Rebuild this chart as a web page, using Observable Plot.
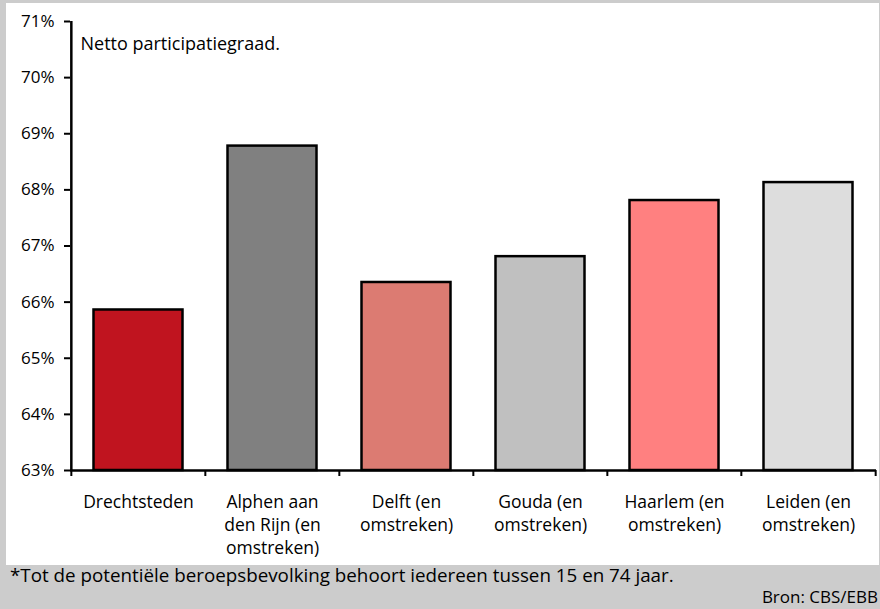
<!DOCTYPE html>
<html>
<head>
<meta charset="utf-8">
<script src="https://cdn.jsdelivr.net/npm/d3@7"></script>
<script src="https://cdn.jsdelivr.net/npm/@observablehq/plot@0.6"></script>
<style>
  body { margin: 0; }
  #wrap { position: relative; width: 880px; height: 609px; background: #cccccc; overflow: hidden; font-family: "Open Sans", sans-serif; color: #000; }
  #panel { position: absolute; left: 6px; top: 3px; width: 873px; height: 562px; background: #fff; }
  #chart { position: absolute; left: 0; top: 0; }
  #note { position: absolute; left: 10px; top: 562px; font-size: 18.8px; white-space: nowrap; }
  #src { position: absolute; right: 2px; top: 585px; font-size: 17px; white-space: nowrap; }
</style>
</head>
<body>
<div id="wrap">
  <div id="panel"></div>
  <div id="chart"></div>
  <div id="note"></div>
  <div id="src"></div>
</div>
<script>
const categories = ["Drechtsteden", "Alphen aan den Rijn (en omstreken)", "Delft (en omstreken)", "Gouda (en omstreken)", "Haarlem (en omstreken)", "Leiden (en omstreken)"];
const tickLabels = ["Drechtsteden", "Alphen aan\nden Rijn (en\nomstreken)", "Delft (en\nomstreken)", "Gouda (en\nomstreken)", "Haarlem (en\nomstreken)", "Leiden (en\nomstreken)"];
const values = [65.86, 68.78, 66.35, 66.81, 67.81, 68.13];
const colors = ["#c0141f", "#808080", "#dc7b72", "#c0c0c0", "#ff8080", "#dddddd"];
const yTicks = [63, 64, 65, 66, 67, 68, 69, 70, 71];
const annotation = "Netto participatiegraad.";
const footnote = "*Tot de potentiële beroepsbevolking behoort iedereen tussen 15 en 74 jaar.";
const source = "Bron: CBS/EBB";

const data = categories.map((c, i) => ({cat: c, value: values[i]}));

const W = 880, H = 565, mL = 70, mR = 4, mT = 21, mB = 95;
const bw = (W - mL - mR) / categories.length;

const chart = Plot.plot({
  width: W,
  height: H,
  marginLeft: mL,
  marginRight: mR,
  marginTop: mT,
  marginBottom: mB,
  style: {background: "transparent", fontFamily: "'Open Sans', sans-serif", fontSize: "17px", color: "#000", overflow: "visible"},
  x: {domain: categories, padding: 0, axis: null, label: null},
  y: {domain: [63, 71], axis: null, label: null},
  color: {domain: categories, range: colors},
  marks: [
    Plot.barY(data, {x: "cat", y1: 63, y2: "value", fill: "cat", stroke: "#000", strokeWidth: 2.5, insetLeft: 22.5, insetRight: 22.5}),
    Plot.axisY({ticks: yTicks, tickFormat: d => d + "%", tickSize: 6, tickPadding: 10, strokeWidth: 2, fontSize: 17, fill: "#000", label: null}),
    Plot.axisX({tickSize: 0, tickPadding: 21.5, tickFormat: d => tickLabels[categories.indexOf(d)], lineHeight: 1.3, fontSize: 17.5, fill: "#000", label: null}),
    Plot.ruleX([categories[0]], {x: d => d, dx: -bw / 2, y1: 63, y2: 71, strokeWidth: 2.5, stroke: "#000"}),
    Plot.ruleY([63], {strokeWidth: 2.5, stroke: "#000"}),
    Plot.ruleX(categories, {x: d => d, dx: -bw / 2, y1: 63, y2: 63, insetBottom: -6, strokeWidth: 2, stroke: "#000"}),
    Plot.ruleX([categories[categories.length - 1]], {x: d => d, dx: bw / 2, y1: 63, y2: 63, insetBottom: -6, strokeWidth: 2, stroke: "#000"}),
    Plot.text([annotation], {text: d => d, frameAnchor: "top-left", textAnchor: "start", lineAnchor: "top", dx: 10, dy: 16, fontSize: 18, fill: "#000"})
  ]
});
document.getElementById("chart").appendChild(chart);
document.getElementById("note").textContent = footnote;
document.getElementById("src").textContent = source;
</script>
</body>
</html>
